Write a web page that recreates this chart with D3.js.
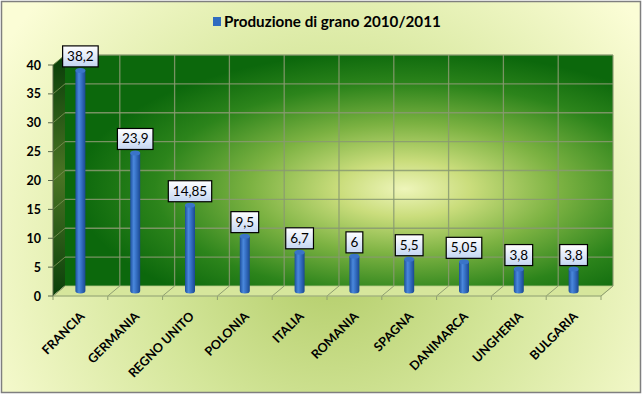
<!DOCTYPE html>
<html><head><meta charset="utf-8">
<script src="https://cdn.jsdelivr.net/npm/d3@7"></script>
<style>body{margin:0;background:#fff}svg{display:block}</style>
</head><body>
<script>
const categories = ["FRANCIA","GERMANIA","REGNO UNITO","POLONIA","ITALIA","ROMANIA","SPAGNA","DANIMARCA","UNGHERIA","BULGARIA"];
const values = [38.2,23.9,14.85,9.5,6.7,6,5.5,5.05,3.8,3.8];
const yTicks = [0,5,10,15,20,25,30,35,40];
const seriesName = "Produzione di grano 2010/2011";

const W=643,H=395;
const svg=d3.select("body").append("svg").attr("width",W).attr("height",H);
const defs=svg.append("defs");

// gradients
const bg=defs.append("radialGradient").attr("id","bg").attr("gradientUnits","userSpaceOnUse")
  .attr("cx",330).attr("cy",260).attr("r",390);
[[0,"#b2cc68"],[0.45,"#d4e69a"],[1,"#fbfdd6"]].forEach(s=>bg.append("stop").attr("offset",s[0]).attr("stop-color",s[1]));

const wall=defs.append("radialGradient").attr("id","wall")
  .attr("cx",0.62).attr("cy",0.58).attr("r",0.6);
[[0,"#eef5ba"],[0.2,"#cadd7c"],[0.47,"#7cb242"],[0.76,"#2c841b"],[1,"#0c680c"]].forEach(s=>wall.append("stop").attr("offset",s[0]).attr("stop-color",s[1]));

const side=defs.append("linearGradient").attr("id","side").attr("x1",0).attr("y1",0).attr("x2",0).attr("y2",1);
[[0,"#083e08"],[0.5,"#4a7424"],[1,"#0a400a"]].forEach(s=>side.append("stop").attr("offset",s[0]).attr("stop-color",s[1]));

const cyl=defs.append("linearGradient").attr("id","cyl").attr("x1",0).attr("y1",0).attr("x2",1).attr("y2",0);
[[0,"#1d4f9c"],[0.35,"#4a88dc"],[0.6,"#3670c4"],[1,"#1a4890"]].forEach(s=>cyl.append("stop").attr("offset",s[0]).attr("stop-color",s[1]));

const lab=defs.append("linearGradient").attr("id","lab").attr("x1",0).attr("y1",0).attr("x2",0).attr("y2",1);
[[0,"#ffffff"],[1,"#c4d6f2"]].forEach(s=>lab.append("stop").attr("offset",s[0]).attr("stop-color",s[1]));

// background + frame
svg.append("rect").attr("x",1.5).attr("y",1.5).attr("width",639).attr("height",391)
  .attr("fill","url(#bg)").attr("stroke","#7f7f7f").attr("stroke-width",1.5);

// scales
const DX=12, DY=-10;
const xF=d3.scaleBand().domain(categories).range([53,601]);
const xB=d3.scaleBand().domain(categories).range([53+DX,601+DX]);
const yF=d3.scaleLinear().domain([0,40]).range([296,65]);
const yB=d3.scaleLinear().domain([0,40]).range([296+DY,65+DY]);
const yM=d3.scaleLinear().domain([0,40]).range([296+DY/2,65+DY/2]);

// back wall
svg.append("rect").attr("x",xB.range()[0]).attr("y",yB(40)).attr("width",xB.range()[1]-xB.range()[0])
  .attr("height",yB(0)-yB(40)).attr("fill","url(#wall)");
// side wall
svg.append("path").attr("d",`M${xF.range()[0]},${yF(40)}L${xB.range()[0]},${yB(40)}L${xB.range()[0]},${yB(0)}L${xF.range()[0]},${yF(0)}Z`)
  .attr("fill","url(#side)");
// floor
svg.append("path").attr("d",`M${xF.range()[0]},${yF(0)}L${xB.range()[0]},${yB(0)}L${xB.range()[1]},${yB(0)}L${xF.range()[1]},${yF(0)}Z`)
  .attr("fill","#d6e69c").attr("stroke","#b8c888").attr("stroke-width",0.8);

// horizontal gridlines on back wall + side
const gridC="#8a9a72";
yTicks.forEach(t=>{
  if(t>0) svg.append("line").attr("x1",xB.range()[0]).attr("x2",xB.range()[1]).attr("y1",yB(t)).attr("y2",yB(t))
    .attr("stroke",gridC).attr("stroke-width",1.3).attr("opacity",0.85);
  svg.append("line").attr("x1",xF.range()[0]).attr("x2",xB.range()[0]).attr("y1",yF(t)).attr("y2",yB(t))
    .attr("stroke",t===0?"#9aa878":"#6e8a4a").attr("stroke-width",1);
});
// vertical gridlines on back wall
d3.range(categories.length+1).forEach(i=>{
  const xb=xB.range()[0]+i*xB.step();
  if(i>0) svg.append("line").attr("x1",xb).attr("x2",xb).attr("y1",yB(40)).attr("y2",yB(0))
    .attr("stroke",gridC).attr("stroke-width",1.3).attr("opacity",0.85);
  const xf=xF.range()[0]+i*xF.step();
  svg.append("line").attr("x1",xf).attr("x2",xb).attr("y1",yF(0)).attr("y2",yB(0)).attr("stroke","#8e9e70").attr("stroke-width",1);
  svg.append("line").attr("x1",xf).attr("x2",xf).attr("y1",yF(0)).attr("y2",yF(0)+4).attr("stroke","#8e9e70").attr("stroke-width",1);
});
// front floor edge
svg.append("line").attr("x1",xF.range()[0]).attr("x2",xF.range()[1]).attr("y1",yF(0)).attr("y2",yF(0)).attr("stroke","#9aaa7a").attr("stroke-width",1);
// y axis
svg.append("line").attr("x1",53).attr("x2",53).attr("y1",yF(40)).attr("y2",yF(0)).attr("stroke","#5a6a4a").attr("stroke-width",1);
const yAxis=svg.append("g");
yTicks.forEach(t=>{
  yAxis.append("line").attr("x1",48).attr("x2",53).attr("y1",yF(t)).attr("y2",yF(t)).attr("stroke","#5a6a4a");
  yAxis.append("text").attr("x",41).attr("y",yF(t)).attr("dy","0.36em").attr("text-anchor","end")
    .attr("font-family","Lato, 'Open Sans', sans-serif").attr("font-weight","bold").attr("font-size",12.5)
    .attr("fill","#000").text(t);
});

// bars (cylinders)
const bw=10, ry=2.5;
categories.forEach((c,i)=>{
  const cx=xF(c)+xF.bandwidth()/2, y0=yM(0), y1=yM(values[i]);
  const g=svg.append("g");
  g.append("path").attr("d",`M${cx-bw/2},${y1}L${cx-bw/2},${y0}A${bw/2},${ry} 0 0 0 ${cx+bw/2},${y0}L${cx+bw/2},${y1}Z`).attr("fill","url(#cyl)");
  g.append("ellipse").attr("cx",cx).attr("cy",y1).attr("rx",bw/2).attr("ry",ry).attr("fill","#3a74c8");
});

// value labels
const fmt=v=>String(v).replace(".",",");
categories.forEach((c,i)=>{
  const cx=xF(c)+xF.bandwidth()/2, top=yM(values[i])-ry-1;
  const g=svg.append("g");
  const t=g.append("text").attr("x",cx).attr("y",top-6).attr("text-anchor","middle")
    .attr("font-family","Lato, 'Open Sans', sans-serif").attr("font-size",13.5).attr("fill","#000").text(fmt(values[i]));
  const w=t.node().getComputedTextLength()+9, h=21;
  g.insert("rect","text").attr("x",cx-w/2).attr("y",top-h).attr("width",w).attr("height",h)
    .attr("fill","url(#lab)").attr("stroke","#000").attr("stroke-width",1.2);
});

// category labels
categories.forEach(c=>{
  const cx=xF(c)+xF.bandwidth()/2;
  svg.append("text").attr("transform",`translate(${cx+5},${yF(0)+21}) rotate(-45)`).attr("text-anchor","end")
    .attr("font-family","Lato, 'Open Sans', sans-serif").attr("font-weight","bold").attr("font-size",12.5)
    .attr("fill","#000").text(c);
});

// legend/title
const lg=svg.append("g");
lg.append("rect").attr("x",213).attr("y",17).attr("width",8).attr("height",9).attr("fill","#2f6cc0");
const lt=lg.append("text").attr("x",224).attr("y",27).attr("font-family","Lato, 'Open Sans', sans-serif")
  .attr("font-weight","bold").attr("font-size",15).attr("fill","#000").text(seriesName);
const L=lt.node().getComputedTextLength();
lt.attr("font-size",15*217/L);
</script>
</body></html>
